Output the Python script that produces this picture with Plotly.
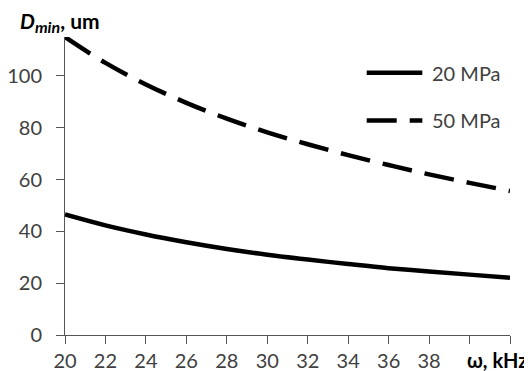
import plotly.graph_objects as go

freq_khz = [20, 22, 24, 26, 28, 30, 32, 34, 36, 38, 40, 42]
d_20mpa = [46.5, 42.3, 38.8, 35.8, 33.2, 31.0, 29.1, 27.4, 25.8, 24.5, 23.3, 22.1]
d_50mpa = [115.0, 105.0, 96.7, 89.6, 83.5, 78.2, 73.6, 69.4, 65.6, 62.0, 58.7, 55.6]
series_names = ["20 MPa", "50 MPa"]
x_ticks = [20, 22, 24, 26, 28, 30, 32, 34, 36, 38]
x_unlabeled_ticks = [40, 42]
y_ticks = [0, 20, 40, 60, 80, 100]

font_family = "Lato, 'Open Sans', sans-serif"
dash_style = "30px,13px"
line_w = 4.5
axis_col = "#555555"

# the page body has an 8px default margin, so the figure is sized/margined to compensate
OFF = 8

fig = go.Figure()
fig.add_trace(go.Scatter(x=freq_khz, y=d_20mpa, mode="lines", name=series_names[0],
                         line=dict(color="black", width=line_w, shape="spline"),
                         showlegend=False))
fig.add_trace(go.Scatter(x=freq_khz, y=d_50mpa, mode="lines", name=series_names[1],
                         line=dict(color="black", width=line_w, shape="spline", dash=dash_style),
                         showlegend=False))

fig.update_layout(
    width=532 - OFF, height=371 - OFF,
    margin=dict(l=65 - OFF, r=22, t=37 - OFF, b=36, pad=0),
    paper_bgcolor="white", plot_bgcolor="white",
    font=dict(family=font_family, size=20, color="#404040"),
    showlegend=False,
    xaxis=dict(range=[20, 42], tickvals=x_ticks, automargin=False,
               showgrid=False, zeroline=False, showline=True, linecolor=axis_col,
               linewidth=1, ticks="outside", ticklen=8, tickcolor=axis_col,
               ticklabelstandoff=0,
               minor=dict(tickvals=x_unlabeled_ticks, ticks="outside", ticklen=8,
                          tickcolor=axis_col)),
    yaxis=dict(range=[0, 115], tickvals=y_ticks, automargin=False,
               showgrid=False, zeroline=False, showline=True, linecolor=axis_col,
               linewidth=1, ticks="outside", ticklen=8, tickcolor=axis_col,
               ticklabelstandoff=10),
)

# manual legend (line samples + labels)
legend_rows = [(0.88, None), (0.72, dash_style)]
for (yy, dsh), nm in zip(legend_rows, series_names):
    fig.add_shape(type="line", xref="paper", yref="paper",
                  x0=0.678, x1=0.803, y0=yy, y1=yy,
                  line=dict(color="black", width=line_w, dash=dsh))
    fig.add_annotation(text=nm, xref="paper", yref="paper", x=0.82, y=yy,
                       xanchor="left", yanchor="middle", showarrow=False,
                       font=dict(size=20, color="#404040"))

fig.add_annotation(text="<b><i>D<sub><span style='font-size:16px'>min</span></sub></i>, um</b>",
                   xref="paper", yref="paper",
                   x=-0.105, y=1.0, xanchor="left", yanchor="bottom", yshift=-1, showarrow=False,
                   font=dict(size=21, color="black"))
fig.add_annotation(text="<b>ω, kHz</b>", xref="paper", yref="paper",
                   x=1.045, y=0, xanchor="right", yanchor="top", yshift=-11, showarrow=False,
                   font=dict(size=20, color="black"))

fig.write_html("out.html")
